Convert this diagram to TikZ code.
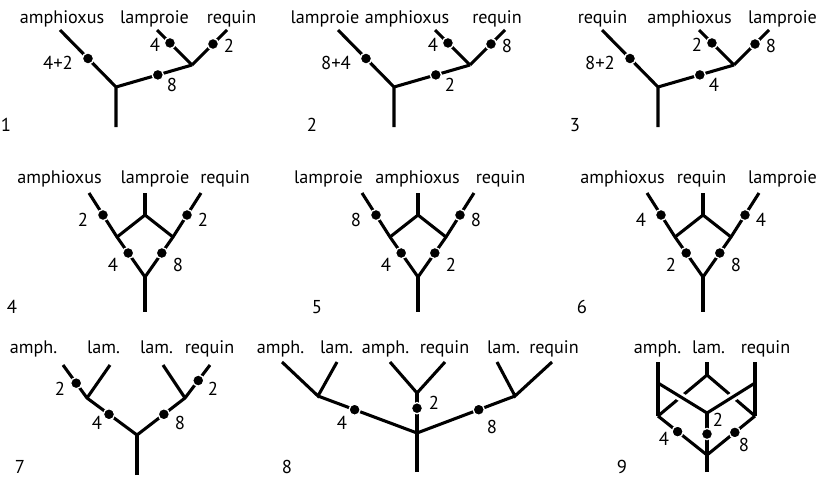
\documentclass[tikz,border=0pt]{standalone}
\usepackage{fontspec}
\setmainfont{PT Sans}
\usetikzlibrary{math}
\tikzset{
br/.style={line width=2.3pt},
dot/.style={circle,fill=black,draw=white,line width=1pt,inner sep=0pt,minimum size=8.4pt},
tax/.style={anchor=base,font=\fontsize{13.6}{16}\selectfont},
num/.style={inner sep=1pt,font=\fontsize{14}{16}\selectfont},
over/.style={preaction={draw=white,line width=6.5pt,shorten <=8pt,shorten >=8pt}}
}

\begin{document}
\begin{tikzpicture}[x=0.75pt,y=-0.75pt]
\useasboundingbox (0,0) rectangle (827,479);
%row 1
\foreach \ox/\ea/\eb/\ec/\ed in {116/4+2/8/4/2, 394/8+4/2/4/8, 658/8+2/4/2/8}{
\begin{scope}[shift={(\ox,87)}]
\coordinate (R) at (0,0);
\coordinate (R0) at (0,40);
\coordinate (N) at (76,-22);
\coordinate (T1) at (-56,-57);
\coordinate (T2) at (41,-57);
\coordinate (T3) at (111,-57);
\draw[br] (R0) -- (R) -- node[dot]{} (T1);
\draw[br] (R) -- node[dot,pos=.55]{} (N);
\draw[br] (N) -- node[dot,pos=.63]{} (T2);
\draw[br] (N) -- node[dot,pos=.6]{} (T3);
\node[num] at (-58,-24) {\ea};
\node[num] at (56,-2) {\eb};
\node[num] at (39,-42) {\ec};
\node[num] at (113,-41) {\ed};
\end{scope}}
\node[tax] (a1) at (62,23) {amphioxus};
\node[tax] (l1) at (154.5,23) {lamproie};
\node[tax] (r1) at (231.5,23) {requin};
\node[tax] (l2) at (325,23) {lamproie};
\node[tax] (a2) at (407,23) {amphioxus};
\node[tax] (r2) at (497,23) {requin};
\node[tax] (r3) at (602.5,23) {requin};
\node[tax] (a3) at (689.5,23) {amphioxus};
\node[tax] (l3) at (782.5,23) {lamproie};
\node[num] (k1) at (6,125) {1};
\node[num] (k2) at (312,125) {2};
\node[num] (k3) at (575,125) {3};

%row 2
\foreach \ox/\ea/\eb/\ec/\ed in {145/2/2/4/8, 418/8/8/4/2, 703/4/4/2/8}{
\begin{scope}[shift={(\ox,277)}]
\coordinate (B) at (0,0);
\coordinate (B0) at (0,35);
\coordinate (T) at (0,-62);
\coordinate (T0) at (0,-84);
\coordinate (L) at (-28,-40);
\coordinate (Rn) at (28,-40);
\coordinate (TL) at (-56,-84);
\coordinate (TR) at (56,-84);
\draw[br] (T0) -- (T);
\draw[br] (L) -- (T) -- (Rn);
\draw[br] (TL) -- node[dot]{} (L) -- node[dot,pos=.4]{} (B) -- node[dot,pos=.6]{} (Rn) -- node[dot]{} (TR);
\draw[br] (B) -- (B0);
\node[num] at (-62,-57) {\ea};
\node[num] at (58,-57) {\eb};
\node[num] at (-32,-12) {\ec};
\node[num] at (33,-12) {\ed};
\end{scope}}
\node[tax] (a4) at (59.5,183) {amphioxus};
\node[tax] (l4) at (155,183) {lamproie};
\node[tax] (r4) at (225,183) {requin};
\node[tax] (l5) at (328.5,183) {lamproie};
\node[tax] (a5) at (417.5,183) {amphioxus};
\node[tax] (r5) at (500.5,183) {requin};
\node[tax] (a6) at (622.5,183) {amphioxus};
\node[tax] (r6) at (701.5,183) {requin};
\node[tax] (l6) at (782.5,183) {lamproie};
\node[num] (k4) at (12,307) {4};
\node[num] (k5) at (317,307) {5};
\node[num] (k6) at (582,307) {6};

%row 3, tree 7
\coordinate (S7) at (137,435);
\coordinate (S70) at (137,475);
\coordinate (L7) at (87,398);
\coordinate (R7) at (185,398);
\coordinate (L7a) at (63,365);
\coordinate (L7b) at (110,365);
\coordinate (R7a) at (163,365);
\coordinate (R7b) at (210,365);
\draw[br] (S70) -- (S7);
\draw[br] (L7a) -- node[dot,pos=.55]{} (L7) -- node[dot,pos=.44]{} (S7) -- node[dot,pos=.56]{} (R7) -- node[dot,pos=.53]{} (R7b);
\draw[br] (L7) -- (L7b);
\draw[br] (R7) -- (R7a);
\node[num] at (60,389) {2};
\node[num] at (213,389) {2};
\node[num] at (97,423) {4};
\node[num] at (180,423) {8};
\node[tax] (a7) at (33.5,353) {amph.};
\node[tax] (l7) at (103.5,353) {lam.};
\node[tax] (m7) at (156.5,353) {lam.};
\node[tax] (r7) at (209.5,353) {requin};
\node[num] (k7) at (20,467) {7};

%tree 8
\coordinate (S8) at (417,433);
\coordinate (S80) at (417,472);
\coordinate (L8) at (318,396);
\coordinate (M8) at (417,393);
\coordinate (R8) at (515,396);
\draw[br] (S80) -- (S8);
\draw[br] (S8) -- node[dot,pos=.63]{} (L8);
\draw[br] (S8) -- node[dot,pos=.62]{} (M8);
\draw[br] (S8) -- node[dot,pos=.63]{} (R8);
\draw[br] (282,362) -- (L8) -- (337,362);
\draw[br] (390,362) -- (M8) -- (445,362);
\draw[br] (497,362) -- (R8) -- (552,362);
\node[num] at (342,423) {4};
\node[num] at (434,403) {2};
\node[num] at (492,427) {8};
\node[tax] (a8) at (280.5,353) {amph.};
\node[tax] (l8) at (336.5,353) {lam.};
\node[tax] (m8) at (385.5,353) {amph.};
\node[tax] (r8) at (444.5,353) {requin};
\node[tax] (n8) at (503.5,353) {lam.};
\node[tax] (q8) at (554,353) {requin};
\node[num] (k8) at (287,467) {8};

%tree 9
\coordinate (S9) at (707,455);
\coordinate (S90) at (707,472);
\coordinate (C9) at (707,413);
\coordinate (M9) at (707,375);
\coordinate (M90) at (707,362);
\coordinate (LB) at (658,416);
\coordinate (LT) at (658,383);
\coordinate (L90) at (658,362);
\coordinate (RB) at (755,416);
\coordinate (RT) at (755,383);
\coordinate (R90) at (755,362);
\draw[br] (LB) -- (M9) -- (RB);
\draw[br,over] (LT) -- (C9);
\draw[br,over] (RT) -- (C9);
\draw[br] (M90) -- (M9);
\draw[br] (L90) -- (LB);
\draw[br] (R90) -- (RB);
\draw[br] (S90) -- (S9);
\draw[br] (LB) -- node[dot,pos=.4]{} (S9);
\draw[br] (RB) -- node[dot,pos=.42]{} (S9);
\draw[br] (C9) -- node[dot]{} (S9);
\node[num] at (718,420) {2};
\node[num] at (664,439) {4};
\node[num] at (744,445) {8};
\node[tax] (a9) at (657.5,353) {amph.};
\node[tax] (l9) at (708.5,353) {lam.};
\node[tax] (r9) at (765.5,353) {requin};
\node[num] (k9) at (622,467) {9};
\end{tikzpicture}
\end{document}
